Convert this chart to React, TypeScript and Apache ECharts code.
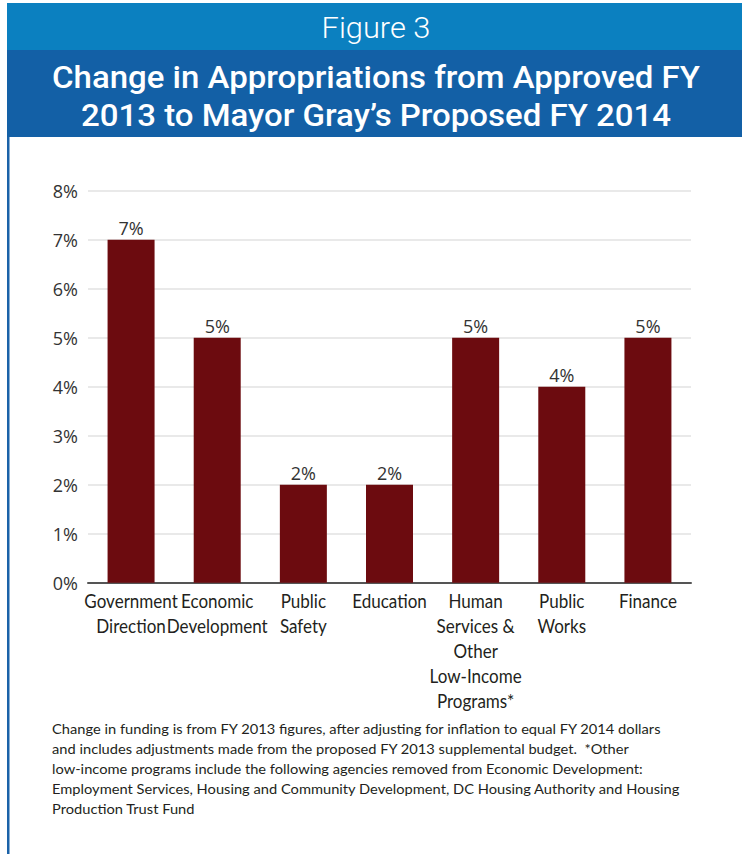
import React, { useEffect, useRef } from "react";
import * as echarts from "echarts";

const categories = [
  "Government\nDirection",
  "Economic\nDevelopment",
  "Public\nSafety",
  "Education",
  "Human\nServices &\nOther\nLow-Income\nPrograms*",
  "Public\nWorks",
  "Finance",
];
const values = [7, 5, 2, 2, 5, 4, 5];
const yMin = 0;
const yMax = 8;
const yInterval = 1;
const figureLabel = "Figure 3";
const titleLines = [
  "Change in Appropriations from Approved FY",
  "2013 to Mayor Gray\u2019s Proposed FY 2014",
];
const footnoteLines = [
  "Change in funding is from FY 2013 figures, after adjusting for inflation to equal FY 2014 dollars",
  "and includes adjustments made from the proposed FY 2013 supplemental budget.  *Other",
  "low-income programs include the following agencies removed from Economic Development:",
  "Employment Services, Housing and Community Development, DC Housing Authority and Housing",
  "Production Trust Fund",
];

const LABEL_FAMILY = "Lato, 'Open Sans', sans-serif";
const TITLE_FAMILY = "Roboto, 'Liberation Sans', sans-serif";
const NUM_FAMILY = "'Open Sans', 'Noto Sans', sans-serif";

let measureCtx: CanvasRenderingContext2D | null = null;
// width of text at the given size, measured at 100px to avoid hinting effects
function measure(text: string, weight: string, size: number, family: string): number {
  if (!measureCtx) measureCtx = document.createElement("canvas").getContext("2d");
  measureCtx!.font = `${weight} 100px ${family}`;
  return (measureCtx!.measureText(text).width * size) / 100;
}

export default function App() {
  const ref = useRef<HTMLDivElement>(null);
  useEffect(() => {
    document.body.style.margin = "0";
    const chart = echarts.init(ref.current!, null, { renderer: "svg" });
    chart.setOption({
      animation: false,
      grid: { left: 88, right: 51, top: 190.7, bottom: 271.3, containLabel: false },
      xAxis: {
        type: "category",
        data: categories,
        axisLine: { show: true, lineStyle: { color: "#555555", width: 2 } },
        axisTick: { show: false },
        axisLabel: { show: false },
      },
      yAxis: {
        type: "value",
        min: yMin,
        max: yMax,
        interval: yInterval,
        axisLine: { show: false },
        axisTick: { show: false },
        splitLine: { lineStyle: { color: "#e2e2e2", width: 1.5 } },
        axisLabel: {
          formatter: "{value}%",
          color: "#333333",
          fontFamily: NUM_FAMILY,
          fontSize: 18,
          margin: 10,
        },
      },
      series: [
        {
          type: "bar",
          data: values,
          barWidth: 47,
          itemStyle: { color: "#6c0b0f" },
          label: {
            show: true,
            position: "top",
            distance: 3,
            formatter: "{c}%",
            color: "#333333",
            fontFamily: NUM_FAMILY,
            fontSize: 18,
          },
        },
      ],
    });

    const figScale = 109 / measure(figureLabel, "300", 29, TITLE_FAMILY);
    const titleScale = 648 / measure(titleLines[0], "500", 32, TITLE_FAMILY);
    // footnote drawn at 2x size and scaled down by half to avoid hinted advances
    const NOTE_SIZE = 28;
    const noteScaleX =
      (611 / measure(footnoteLines[0], "normal", NOTE_SIZE, LABEL_FAMILY) +
        630 / measure(footnoteLines[3], "normal", NOTE_SIZE, LABEL_FAMILY)) /
      2;
    const catScale = 101 / measure("Development", "normal", 19, LABEL_FAMILY);

    const baseY = chart.convertToPixel({ yAxisIndex: 0 }, 0) as number;

    const graphic: any[] = [
      { type: "rect", shape: { x: 7, y: 3, width: 2.5, height: 851 }, style: { fill: "#1a62a8" }, silent: true },
      { type: "rect", shape: { x: 7, y: 3, width: 735, height: 47 }, style: { fill: "#0b80c0" }, silent: true },
      { type: "rect", shape: { x: 7, y: 50, width: 735, height: 87 }, style: { fill: "#1360a6" }, silent: true },
      {
        type: "text",
        x: 376,
        y: 28,
        scaleX: figScale,
        style: {
          text: figureLabel,
          fill: "#ffffff",
          font: `300 29px ${TITLE_FAMILY}`,
          textAlign: "center",
          textVerticalAlign: "middle",
        },
      },
      ...titleLines.map((t, i) => ({
        type: "text",
        x: 376,
        y: 77 + i * 38,
        scaleX: titleScale,
        style: {
          text: t,
          fill: "#ffffff",
          font: `500 32px ${TITLE_FAMILY}`,
          textAlign: "center",
          textVerticalAlign: "middle",
        },
      })),
      ...categories.map((c, i) => ({
        type: "text",
        x: chart.convertToPixel({ xAxisIndex: 0 }, i) as number,
        y: baseY + 5,
        scaleX: catScale,
        style: {
          text: c,
          fill: "#231f20",
          font: `19px ${LABEL_FAMILY}`,
          lineHeight: 25,
          textAlign: "center",
          textVerticalAlign: "top",
        },
      })),
      ...footnoteLines.map((t, i) => ({
        type: "text",
        x: 52,
        y: 729 + i * 20,
        scaleX: noteScaleX,
        scaleY: 0.5,
        style: {
          text: t,
          fill: "#231f20",
          font: `${NOTE_SIZE}px ${LABEL_FAMILY}`,
          textAlign: "left",
          textVerticalAlign: "middle",
        },
      })),
    ];
    chart.setOption({ graphic });
    return () => chart.dispose();
  }, []);
  return (
    <div
      ref={ref}
      style={{ position: "absolute", left: 0, top: 0, width: 742, height: 854, background: "#ffffff" }}
    />
  );
}
